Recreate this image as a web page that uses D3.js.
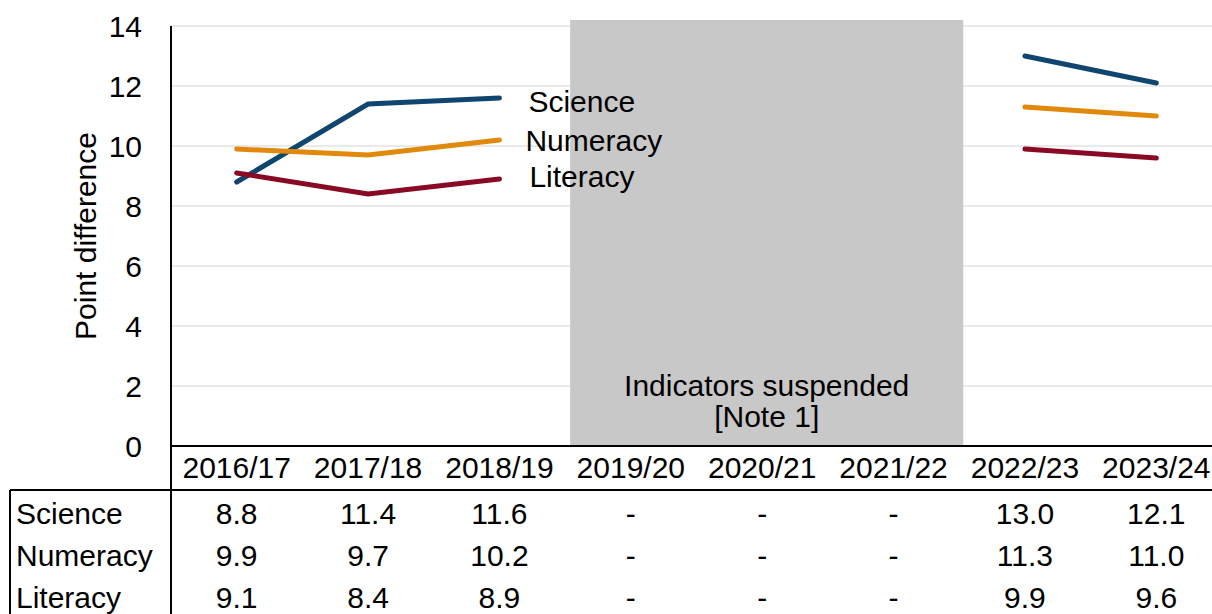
<!DOCTYPE html>
<html>
<head>
<meta charset="utf-8">
<script src="https://cdn.jsdelivr.net/npm/d3@7"></script>
<style>
  body { margin: 0; background: #fff; }
  text { font-family: "Liberation Sans", Arial, sans-serif; fill: #000; font-size: 30px; }
</style>
</head>
<body>
<svg id="chart" width="1212" height="614"></svg>
<script>
const years = ["2016/17", "2017/18", "2018/19", "2019/20", "2020/21", "2021/22", "2022/23", "2023/24"];
const science = [8.8, 11.4, 11.6, null, null, null, 13.0, 12.1];
const numeracy = [9.9, 9.7, 10.2, null, null, null, 11.3, 11.0];
const literacy = [9.1, 8.4, 8.9, null, null, null, 9.9, 9.6];
const suspended = ["2019/20", "2020/21", "2021/22"];
const yTicks = [0, 2, 4, 6, 8, 10, 12, 14];

const series = [
    {name: "Science", values: science, color: "#0e466f"},
    {name: "Numeracy", values: numeracy, color: "#e0890b"},
    {name: "Literacy", values: literacy, color: "#8a0a25"}
];

const width = 1212, height = 614;
const margin = {top: 26, left: 171, right: -10, bottom: 168};

const svg = d3.select("#chart");

const x = d3.scaleBand()
    .domain(years)
    .range([margin.left, width - margin.right]);

const y = d3.scaleLinear()
    .domain([0, 14])
    .range([height - margin.bottom, margin.top]);

// gridlines
svg.append("g")
    .selectAll("line")
    .data(yTicks.filter(d => d > 0))
    .join("line")
    .attr("x1", margin.left)
    .attr("x2", width)
    .attr("y1", d => y(d))
    .attr("y2", d => y(d))
    .attr("stroke", "#e3e3e3")
    .attr("stroke-width", 1.5);

// suspended band
const sx0 = x(suspended[0]) + 5;
const sx1 = x(suspended[suspended.length - 1]) + x.bandwidth() + 4;
svg.append("rect")
    .attr("x", sx0)
    .attr("y", y(14.2))
    .attr("width", sx1 - sx0)
    .attr("height", y(0) - y(14.2))
    .attr("fill", "#c8c8c8");

svg.append("text")
    .attr("x", (sx0 + sx1) / 2)
    .attr("y", y(0) - 50)
    .attr("text-anchor", "middle")
    .text("Indicators suspended");
svg.append("text")
    .attr("x", (sx0 + sx1) / 2)
    .attr("y", y(0) - 19)
    .attr("text-anchor", "middle")
    .text("[Note 1]");

// lines
const line = d3.line()
    .defined(d => d.v != null)
    .x(d => x(d.year) + x.bandwidth() / 2)
    .y(d => y(d.v));

series.forEach(s => {
    svg.append("path")
        .datum(years.map((yr, i) => ({year: yr, v: s.values[i]})))
        .attr("fill", "none")
        .attr("stroke", s.color)
        .attr("stroke-width", 5)
        .attr("stroke-linecap", "round")
        .attr("d", line);
});

// series labels next to 2018/19
const labelX = x("2018/19") + x.bandwidth() / 2 + 28;
const labelY = [y(11.5), y(10.2), y(8.97)];
const labelDx = [1, -2, 2];
series.forEach((s, i) => {
    svg.append("text")
        .attr("x", labelX + labelDx[i])
        .attr("y", labelY[i])
        .attr("dy", "0.35em")
        .text(s.name);
});

// y axis labels
svg.append("g")
    .selectAll("text")
    .data(yTicks)
    .join("text")
    .attr("x", margin.left - 29)
    .attr("y", d => y(d))
    .attr("dy", "0.35em")
    .attr("text-anchor", "end")
    .text(d => d);

svg.append("text")
    .attr("transform", `translate(96,${(y(0) + y(14)) / 2}) rotate(-90)`)
    .attr("text-anchor", "middle")
    .text("Point difference");

// axes lines
const tableTop = y(0) + 44;
svg.append("line")
    .attr("x1", margin.left).attr("x2", margin.left)
    .attr("y1", margin.top).attr("y2", height)
    .attr("stroke", "#000").attr("stroke-width", 2);
svg.append("line")
    .attr("x1", margin.left).attr("x2", width)
    .attr("y1", y(0)).attr("y2", y(0))
    .attr("stroke", "#000").attr("stroke-width", 2);
svg.append("line")
    .attr("x1", 10).attr("x2", width)
    .attr("y1", tableTop).attr("y2", tableTop)
    .attr("stroke", "#000").attr("stroke-width", 2);
svg.append("line")
    .attr("x1", 10).attr("x2", 10)
    .attr("y1", tableTop).attr("y2", height)
    .attr("stroke", "#000").attr("stroke-width", 2);

// x category labels
svg.append("g")
    .selectAll("text")
    .data(years)
    .join("text")
    .attr("x", d => x(d) + x.bandwidth() / 2)
    .attr("y", y(0) + 32)
    .attr("text-anchor", "middle")
    .text(d => d);

// data table
const rowH = 42;
series.forEach((s, r) => {
    const ry = tableTop + 23 + r * rowH;
    svg.append("text")
        .attr("x", 16)
        .attr("y", ry)
        .attr("dy", "0.35em")
        .text(s.name);
    svg.append("g")
        .selectAll("text")
        .data(years.map((yr, i) => ({year: yr, v: s.values[i]})))
        .join("text")
        .attr("x", d => x(d.year) + x.bandwidth() / 2)
        .attr("y", ry)
        .attr("dy", "0.35em")
        .attr("text-anchor", "middle")
        .text(d => d.v == null ? "-" : d3.format(".1f")(d.v));
});
</script>
</body>
</html>
